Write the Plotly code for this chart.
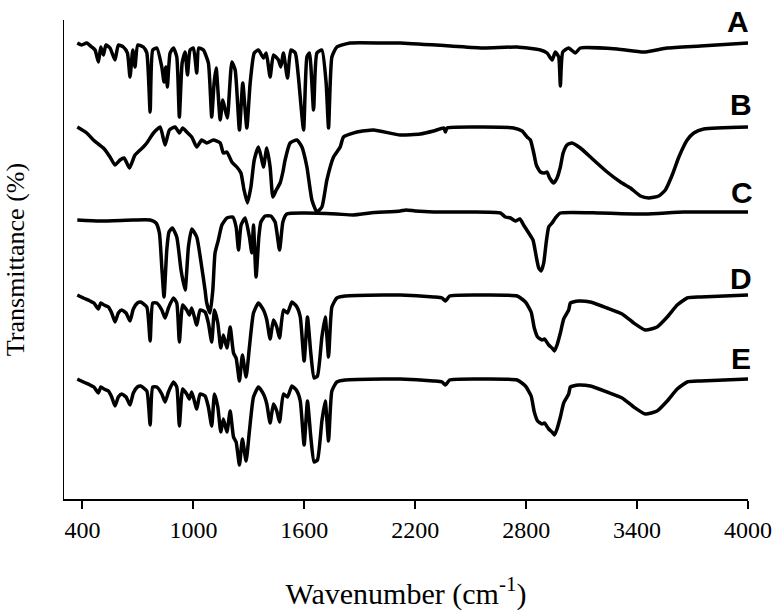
import plotly.graph_objects as go

# ---------------- data (wavenumber cm-1, transmittance in arbitrary stacked units) -------------
A_wn = [372, 396, 423, 450, 468, 486, 499, 513, 527, 549, 576, 594, 621, 643, 657, 672, 684, 699, 729, 748,
        766, 780, 802, 829, 841, 851, 859, 874, 892, 910, 924, 939, 955, 968, 982, 1000, 1018, 1029, 1054, 1081,
        1099, 1112, 1123, 1145, 1159, 1172, 1184, 1208, 1226, 1249, 1267, 1289, 1307, 1329, 1352, 1379, 1394, 1415, 1433, 1460,
        1473, 1487, 1509, 1527, 1551, 1568, 1596, 1614, 1628, 1650, 1668, 1695, 1718, 1731, 1749, 1776, 1848, 2029, 2119, 2390,
        2570, 2751, 2877, 2913, 2940, 2958, 2976, 2985, 2998, 3030, 3066, 3093, 3292, 3436, 3563, 3743, 4000]
A_t = [456, 454, 456, 452, 449, 437, 452, 444, 454, 451, 439, 454, 452, 446, 422, 449, 432, 454, 452, 446,
       387, 449, 451, 432, 417, 432, 412, 446, 451, 442, 382, 436, 447, 424, 449, 451, 426, 451, 449, 436,
       382, 416, 431, 379, 399, 389, 381, 437, 429, 369, 416, 371, 416, 446, 449, 441, 446, 422, 444, 439,
       432, 446, 421, 449, 446, 422, 369, 442, 446, 389, 446, 449, 416, 371, 442, 452, 456, 456, 456, 453,
       451, 452, 449, 446, 439, 447, 442, 413, 447, 451, 446, 451, 450, 447, 451, 453, 456]

B_wn = [372, 423, 459, 513, 549, 576, 603, 625, 654, 684, 729, 748, 784, 820, 847, 870, 901, 924, 942, 964,
        991, 1018, 1045, 1072, 1108, 1145, 1162, 1181, 1208, 1235, 1257, 1274, 1292, 1311, 1329, 1352, 1370, 1379, 1397, 1415,
        1430, 1448, 1469, 1484, 1496, 1523, 1560, 1587, 1614, 1641, 1668, 1695, 1722, 1758, 1794, 1812, 1885, 1974, 2119, 2227,
        2299, 2355, 2363, 2372, 2570, 2732, 2778, 2805, 2823, 2841, 2855, 2877, 2899, 2913, 2927, 2949, 2967, 2985, 3000, 3021,
        3048, 3093, 3165, 3238, 3310, 3364, 3418, 3463, 3517, 3553, 3590, 3626, 3671, 3707, 3761, 4000]
B_t = [372, 366, 359, 351, 342, 334, 339, 341, 331, 344, 352, 356, 366, 372, 354, 369, 372, 366, 371, 367,
       362, 352, 359, 356, 359, 356, 346, 347, 337, 332, 326, 309, 296, 312, 339, 352, 339, 332, 351, 332,
       302, 309, 316, 327, 339, 356, 359, 352, 332, 299, 287, 292, 319, 342, 352, 362, 367, 369, 364, 365,
       368, 371, 367, 371, 372, 371, 368, 362, 359, 346, 334, 327, 326, 327, 321, 316, 321, 332, 346, 354,
       356, 351, 339, 327, 317, 311, 303, 301, 303, 309, 324, 342, 359, 366, 370, 372]

C_wn = [372, 495, 675, 766, 798, 816, 829, 841, 856, 868, 886, 910, 933, 955, 973, 991, 1018, 1045, 1063, 1072,
        1090, 1105, 1117, 1135, 1154, 1181, 1213, 1231, 1244, 1258, 1280, 1303, 1316, 1325, 1339, 1354, 1365, 1388, 1419, 1442,
        1466, 1484, 1505, 1595, 1775, 1866, 1956, 2119, 2150, 2200, 2299, 2500, 2661, 2687, 2715, 2742, 2766, 2786, 2814, 2837,
        2855, 2868, 2881, 2895, 2908, 2922, 2940, 2958, 2985, 3202, 3446, 3653, 4000]
C_t = [279, 278, 279, 279, 276, 266, 232, 202, 249, 267, 271, 262, 229, 209, 252, 270, 262, 232, 209, 196,
       186, 209, 246, 259, 274, 281, 282, 272, 249, 274, 281, 262, 246, 274, 222, 262, 277, 283, 283, 277,
       249, 277, 285, 286, 285, 284, 286, 288, 289, 288, 287, 287, 286, 282, 281, 278, 280, 274, 266, 259,
       242, 231, 228, 236, 256, 272, 276, 281, 286, 286, 285, 287, 287]

D_wn = [372, 405, 441, 462, 486, 499, 517, 540, 558, 576, 594, 612, 636, 657, 675, 697, 715, 748, 766, 780,
        802, 829, 847, 865, 892, 910, 924, 942, 964, 978, 991, 1018, 1036, 1063, 1081, 1099, 1114, 1132, 1148, 1162,
        1181, 1199, 1217, 1231, 1249, 1265, 1285, 1303, 1325, 1352, 1379, 1397, 1415, 1433, 1451, 1466, 1487, 1509, 1533, 1560,
        1578, 1599, 1617, 1635, 1653, 1671, 1695, 1713, 1731, 1749, 1776, 1821, 2029, 2119, 2299, 2345, 2363, 2386, 2570, 2751,
        2796, 2827, 2844, 2862, 2886, 2899, 2922, 2940, 2953, 2967, 2985, 3003, 3030, 3039, 3054, 3084, 3147, 3238, 3319, 3382,
        3445, 3508, 3563, 3617, 3671, 3743, 4000]
D_t = [204, 201, 198, 196, 190, 196, 194, 192, 186, 177, 186, 189, 186, 178, 190, 196, 197, 192, 158, 196,
       196, 189, 181, 191, 201, 196, 157, 194, 189, 184, 191, 174, 189, 187, 176, 157, 189, 176, 151, 164,
       151, 172, 146, 141, 118, 144, 122, 152, 186, 196, 189, 179, 160, 179, 172, 161, 189, 186, 197, 192,
       182, 138, 182, 146, 121, 123, 162, 182, 142, 192, 201, 203, 204, 204, 202, 201, 198, 203, 204, 203,
       197, 187, 171, 162, 159, 160, 154, 151, 148, 154, 166, 180, 189, 196, 197, 198, 197, 191, 185, 176,
       169, 172, 182, 194, 201, 202, 204]

E_wn = [372, 405, 441, 462, 486, 499, 517, 540, 558, 576, 594, 612, 636, 657, 675, 697, 715, 748, 766, 780,
        802, 829, 847, 865, 892, 910, 924, 942, 964, 978, 991, 1018, 1036, 1063, 1081, 1099, 1114, 1132, 1148, 1162,
        1181, 1199, 1217, 1231, 1249, 1265, 1285, 1303, 1325, 1352, 1379, 1397, 1415, 1433, 1451, 1466, 1487, 1509, 1533, 1560,
        1578, 1599, 1617, 1635, 1653, 1671, 1695, 1713, 1731, 1749, 1776, 1821, 2029, 2119, 2299, 2345, 2363, 2386, 2570, 2751,
        2796, 2827, 2844, 2862, 2886, 2899, 2922, 2940, 2953, 2967, 2985, 3003, 3030, 3039, 3054, 3084, 3147, 3238, 3319, 3382,
        3445, 3508, 3563, 3617, 3671, 3743, 4000]
E_t = [120, 117, 114, 112, 106, 112, 110, 108, 102, 93, 102, 105, 102, 94, 106, 112, 113, 108, 74, 112,
       112, 105, 97, 107, 117, 112, 73, 110, 105, 100, 107, 90, 105, 103, 92, 73, 105, 92, 67, 80,
       67, 88, 62, 57, 34, 60, 38, 68, 102, 112, 105, 95, 76, 95, 88, 77, 105, 102, 113, 108,
       98, 54, 98, 62, 37, 39, 78, 98, 58, 108, 117, 119, 120, 120, 118, 117, 114, 119, 120, 119,
       113, 103, 87, 78, 75, 76, 70, 67, 64, 70, 82, 96, 105, 112, 113, 114, 113, 107, 101, 92,
       85, 88, 98, 110, 117, 118, 120]

labels = ["A", "B", "C", "D", "E"]
label_x = [3946, 3960, 3965, 3963, 3960]
label_y = [478, 395, 307, 221, 141]

x_ticks = [400, 1000, 1600, 2200, 2800, 3400, 4000]

SERIF = "Liberation Serif, 'Times New Roman', serif"

# ---------------- figure ----------------
fig = go.Figure()
for wn, t in [(A_wn, A_t), (B_wn, B_t), (C_wn, C_t), (D_wn, D_t), (E_wn, E_t)]:
    fig.add_trace(go.Scatter(x=wn, y=t, mode="lines",
                             line=dict(color="black", width=3.5, shape="spline", smoothing=0.5),
                             showlegend=False, hoverinfo="skip"))

for lab, lx, ly in zip(labels, label_x, label_y):
    fig.add_annotation(x=lx, y=ly, text="<b>" + lab + "</b>", showarrow=False, xanchor="center", yanchor="middle",
                       font=dict(family="Liberation Sans, Arial, sans-serif", size=30, color="black"))

fig.update_layout(
    width=774, height=611,
    margin=dict(l=64, r=26, t=20, b=112),
    paper_bgcolor="white", plot_bgcolor="white",
    font=dict(family=SERIF, color="black"),
    showlegend=False,
)
fig.update_xaxes(range=[300, 4000], tickvals=x_ticks, ticktext=[str(v) for v in x_ticks],
                 showgrid=False, zeroline=False, showline=True, linecolor="black", linewidth=2,
                 ticks="outside", ticklen=8, tickwidth=2, tickcolor="black", automargin=False,
                 tickfont=dict(size=24, family=SERIF),
                 title=dict(text="Wavenumber (cm<sup>-1</sup>)", standoff=42,
                            font=dict(size=30, family=SERIF)))
fig.update_yaxes(range=[0, 479], showgrid=False, zeroline=False, showline=True, linecolor="black",
                 linewidth=1, showticklabels=False, ticks="", automargin=False,
                 title=dict(text="Transmittance (%)", standoff=30,
                            font=dict(size=26, family=SERIF)))

fig.write_html("out.html", config={"displayModeBar": False},
               post_script="document.body.style.margin='0';document.body.style.overflow='hidden';")
